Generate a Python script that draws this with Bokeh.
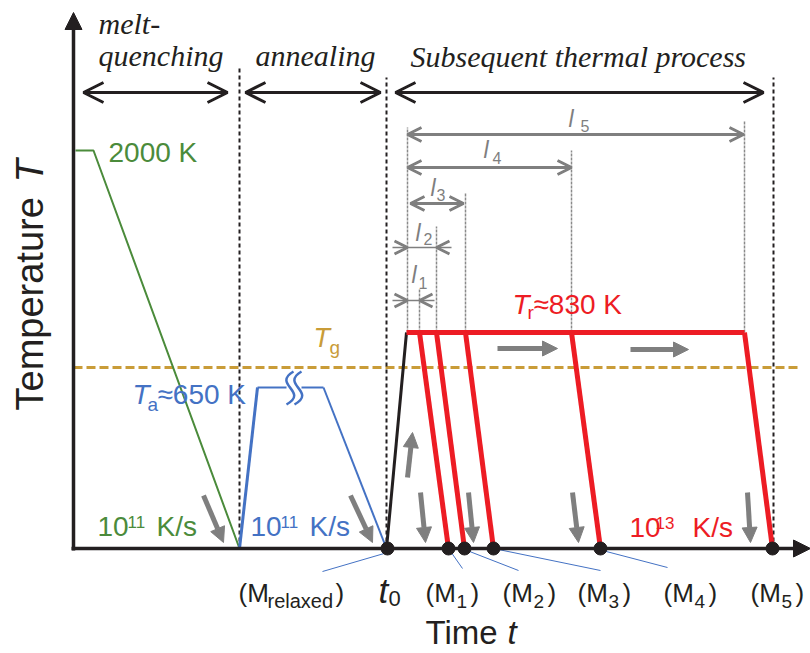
import math
from bokeh.plotting import figure
from bokeh.models import Range1d, Arrow, OpenHead, NormalHead
from bokeh.core.properties import value
from bokeh.embed import file_html
from bokeh.resources import INLINE

# ---------------- data (schematic units: time t, temperature T; origin at axes corner) ----
# melt-quenching path
quench_t = [2, 20, 166]
quench_T = [398, 398, 0]
# annealing path
anneal_up_t = [166, 184]
anneal_up_T = [0, 161]
anneal_hold_a_t = [184, 213]
anneal_hold_b_t = [228, 250]
anneal_down_t = [250, 313]
anneal_down_T = [161, 0]
Ta_level = 161
# subsequent thermal process
heat_t = [313, 333]
heat_T = [0, 216]
Tr_level = 216
hold_t = [333, 671]
drop_start_t = [346, 363, 392, 498, 671]
drop_end_t = [375, 391, 420, 527, 699]
dot_t = [314, 375, 391, 420, 527, 699]
Tg_level = 181
Tg_t = [0, 724]
# boundaries between stages
bound_t = [166, 313, 700]
bound_top = [481, 471, 471]
stage_t0 = [10, 172, 322]
stage_t1 = [154, 307, 690]
stage_T = 456
stage_names = ["annealing", "Subsequent thermal process"]
# leader lines from points to labels
lead_t0 = [314, 375, 391, 420, 529]
lead_T0 = [-4, 0, -1, 0, -2]
lead_t1 = [249, 389, 445, 527, 594]
lead_T1 = [-23, -20, -22, -22, -19]
m_subs = ["1", "2", "3", "4", "5"]
m_left = [352, 429, 504, 590, 677]
# l_i dimension marks
mark_t = [334, 346, 363, 392, 498, 671]
mark_top = [421, 260, 322, 355, 398, 427]
dim_long_t1 = [390, 498, 670]
dim_long_t0 = [337, 334, 334]
dim_long_T = [345, 381, 414]
l_names = ["1", "2", "3", "4", "5"]
l_t = [338, 342, 357, 410, 495]
l_T = [266, 308, 353, 391, 422]
l_sub_t = [345, 350, 363, 419, 507]
l_sub_T = [260, 304, 348, 385, 417]
# gray process arrows
down_t0 = [130, 277, 347, 395, 499, 674]
down_T0 = [53, 53, 56, 56, 56, 56]
down_t1 = [150, 299, 352, 400, 505, 677]
right_t0 = [424, 557]
right_t1 = [484, 615]
right_T = [200, 199]

BLACK = "#231f20"
GREEN = "#4b8b3b"
BLUE = "#4472c4"
RED = "#ed1c24"
GRAY = "#7f7f7f"
GOLD = "#c99c38"
SANS = "Liberation Sans"
SERIF = "Liberation Serif"
K_BASE = 0.33  # compensation of the rendered baseline

p = figure(width=810, height=653, x_range=Range1d(-73, 737), y_range=Range1d(-105, 548),
           x_axis_type=None, y_axis_type=None, min_border=0, toolbar_location=None,
           output_backend="svg", outline_line_color=None, background_fill_color="white")
p.xgrid.visible = False
p.ygrid.visible = False


def lab(t, T, text, size, color, style="normal", font=SANS, angle=0.0):
    if angle:
        t = t - K_BASE * size
    else:
        T = T + K_BASE * size
    p.text(x=[t], y=[T], text=[text], text_font=value(font), text_font_size=f"{size}px",
           text_color=color, text_font_style=style, text_baseline="alphabetic",
           text_align="left", angle=angle)


def arrow(x0, y0, x1, y1, head, width, color):
    p.add_layout(Arrow(x_start=x0, y_start=y0, x_end=x1, y_end=y1, end=head,
                       line_width=width, line_color=color))


# Tg dashed
p.line(Tg_t, [Tg_level, Tg_level], line_color=GOLD, line_width=3, line_dash="9 4")

# stage boundaries
for t, top in zip(bound_t, bound_top):
    p.line([t, t], [0, top], line_color=BLACK, line_width=2, line_dash="4 3")

# stage double arrows
for a, b in zip(stage_t0, stage_t1):
    p.add_layout(Arrow(x_start=a, y_start=stage_T, x_end=b, y_end=stage_T,
                       start=OpenHead(size=20, line_width=3, line_color=BLACK),
                       end=OpenHead(size=20, line_width=3, line_color=BLACK),
                       line_width=3, line_color=BLACK))

# melt-quenching
p.line(quench_t, quench_T, line_color=GREEN, line_width=2)
# annealing
p.line(anneal_up_t, anneal_up_T, line_color=BLUE, line_width=3)
p.line(anneal_hold_a_t, [Ta_level, Ta_level], line_color=BLUE, line_width=2)
p.line(anneal_hold_b_t, [Ta_level, Ta_level], line_color=BLUE, line_width=2)
p.line(anneal_down_t, anneal_down_T, line_color=BLUE, line_width=2)
# break symbol
p.bezier(x0=[220, 228], y0=[177, 177], x1=[213, 221], y1=[144, 144],
         cx0=[198, 206], cy0=[164, 164], cx1=[236, 244], cy1=[157, 157],
         line_color=BLUE, line_width=2.5)

# dimension marks (gray dashed)
for t, top in zip(mark_t, mark_top):
    p.line([t, t], [Tr_level, top], line_color="#8a8a8a", line_width=1.5, line_dash="3 1")

# heating + hold + drops
p.line(heat_t, heat_T, line_color=BLACK, line_width=3)
p.line(hold_t, [Tr_level, Tr_level], line_color=RED, line_width=5)
for a, b in zip(drop_start_t, drop_end_t):
    p.line([a, b], [Tr_level, 0], line_color=RED, line_width=5)

# leader lines
for a, b, c, d in zip(lead_t0, lead_T0, lead_t1, lead_T1):
    p.line([a, c], [b, d], line_color=BLUE, line_width=1)

# axes
arrow(0, -2, 0, 536, NormalHead(size=17, fill_color=BLACK, line_color=BLACK), 3.5, BLACK)
arrow(-2, 0, 737, 0, NormalHead(size=17, fill_color=BLACK, line_color=BLACK), 3.5, BLACK)

# points
p.scatter(dot_t, [0] * len(dot_t), size=13, color=BLACK)

# gray dimension arrows
for a, b, T in zip(dim_long_t0, dim_long_t1, dim_long_T):
    p.add_layout(Arrow(x_start=a, y_start=T, x_end=b, y_end=T,
                       start=OpenHead(size=14, line_width=3, line_color=GRAY),
                       end=OpenHead(size=14, line_width=3, line_color=GRAY),
                       line_width=3, line_color=GRAY))
# l1, l2 inward arrows
for left, right, T in [(mark_t[0], mark_t[1], 248), (mark_t[0], mark_t[2], 301)]:
    p.line([left, right], [T, T], line_color=GRAY, line_width=1.5)
    arrow(left - 15, T, left, T, OpenHead(size=13, line_width=3, line_color=GRAY), 1.5, GRAY)
    arrow(right + 15, T, right, T, OpenHead(size=13, line_width=3, line_color=GRAY), 1.5, GRAY)
for name, t, T, st, sT in zip(l_names, l_t, l_T, l_sub_t, l_sub_T):
    lab(t, T, "l", 23, GRAY, "italic")
    lab(st, sT, name, 16, GRAY)

# gray process arrows
for a, a2, b in zip(down_t0, down_T0, down_t1):
    arrow(a, a2, b, 6, NormalHead(size=15, fill_color=GRAY, line_color=GRAY), 5, GRAY)
arrow(334, 71, 339, 116, NormalHead(size=15, fill_color=GRAY, line_color=GRAY), 5, GRAY)
for a, b, T in zip(right_t0, right_t1, right_T):
    arrow(a, T, b, T, NormalHead(size=15, fill_color=GRAY, line_color=GRAY), 5, GRAY)

# stage titles
lab(25, 515, "melt-", 30, BLACK, "italic", SERIF)
lab(25, 483, "quenching", 30, BLACK, "italic", SERIF)
lab(182, 483, stage_names[0], 30, BLACK, "italic", SERIF)
lab(337, 482, stage_names[1], 30, BLACK, "italic", SERIF)

# temperatures
lab(35, 387, "2000 K", 28, GREEN)
lab(240, 202, "T", 27, GOLD, "italic")
lab(256, 195, "g", 19, GOLD)
lab(59, 145, "T", 28, BLUE, "italic")
lab(74, 138, "a", 19, BLUE)
lab(84, 145, "\u2248650 K", 28, BLUE)
lab(439, 235, "T", 28, RED, "italic")
lab(454, 230, "r", 19, RED)
lab(460, 235, "\u2248830 K", 28, RED)

# rates
for t0, color in [(24, GREEN), (177, BLUE)]:
    lab(t0, 13, "10", 28, color)
    lab(t0 + 30, 21, "11", 17, color)
    lab(t0 + 59, 13, "K/s", 28, color)
lab(556, 12, "10", 28, RED)
lab(582, 20, "13", 17, RED)
lab(619, 12, "K/s", 28, RED)

# point labels
lab(165, -53, "(M", 26, BLACK)
lab(194, -59, "relaxed", 20, BLACK)
lab(262, -53, ")", 26, BLACK)
lab(305, -54, "t", 35, BLACK, "italic")
lab(315, -57, "0", 22, BLACK)
for s, t in zip(m_subs, m_left):
    lab(t, -53, "(M", 26, BLACK)
    lab(t + 31, -59, s, 19, BLACK)
    lab(t + 45, -53, ")", 26, BLACK)

# axis titles
lab(352, -95, "Time ", 33, BLACK)
lab(434, -95, "t", 33, BLACK, "italic")
lab(-31, 138, "Temperature ", 38, BLACK, angle=math.pi / 2)
lab(-31, 366, "T", 38, BLACK, "italic", angle=math.pi / 2)

open("out.html", "w").write(file_html(p, INLINE))
